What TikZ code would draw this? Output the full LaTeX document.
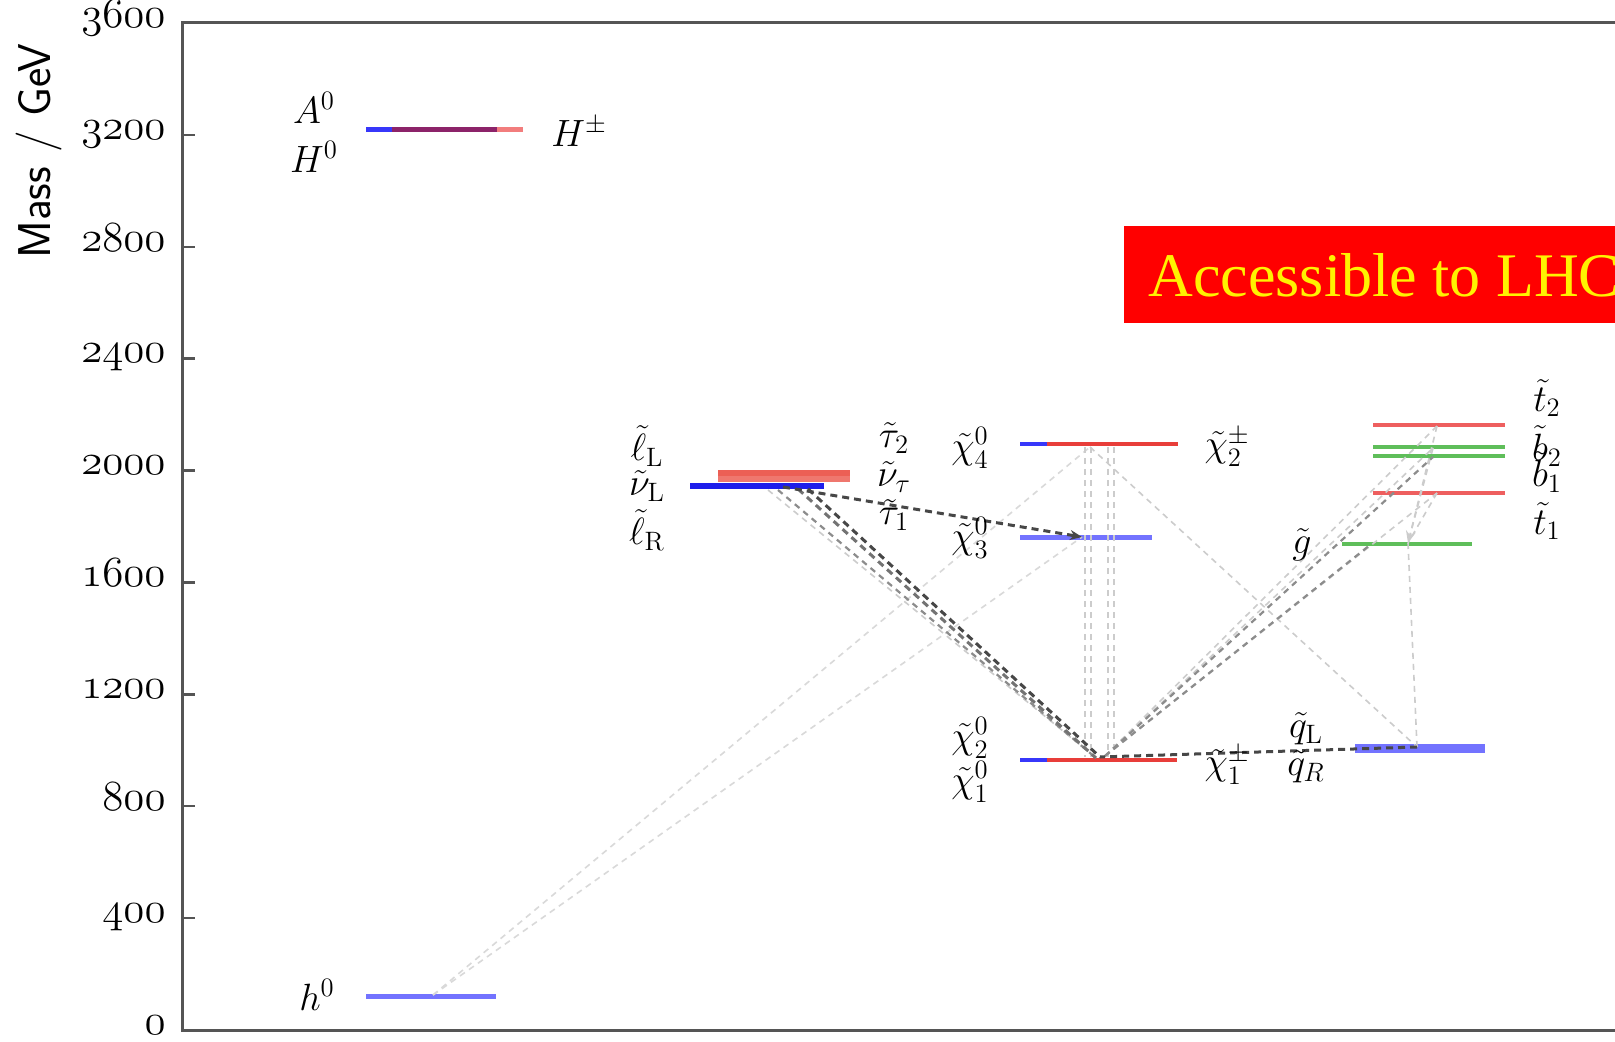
\RequirePackage{fix-cm}
\documentclass[tikz,border=0pt]{standalone}
\usepackage{fontspec}
\newfontfamily\timesfont{Liberation Serif}
\usetikzlibrary{arrows.meta}
\definecolor{cblue}{RGB}{55,55,250}
\definecolor{sblue}{RGB}{30,30,235}
\definecolor{lblue}{RGB}{115,115,255}
\definecolor{cred}{RGB}{232,62,58}
\definecolor{sred}{RGB}{236,95,85}
\definecolor{tred}{RGB}{238,95,95}
\definecolor{hpurple}{RGB}{140,35,105}
\definecolor{hpink}{RGB}{242,125,125}
\definecolor{cgreen}{RGB}{95,190,90}
\definecolor{axgray}{RGB}{85,85,85}
\tikzset{
  lbl/.style={font=\fontsize{19}{22}\selectfont, inner sep=0pt},
  ticklbl/.style={font=\fontsize{21.5}{24}\selectfont, inner sep=0pt, anchor=mid east},
  lvl/.style={line width=2.2pt},
  axisline/.style={draw=axgray, line width=1.5pt},
  dk/.style={draw=black!72, line width=1.5pt, dash pattern=on 3.5pt off 2.5pt},
  md/.style={draw=black!45, line width=1.1pt, dash pattern=on 3pt off 2.5pt},
  ft/.style={draw=black!20, line width=0.8pt, dash pattern=on 3pt off 2.5pt},
  ar/.style={-{Stealth[length=6pt,width=5pt]}}
}
\begin{document}
\begin{tikzpicture}[x=0.5pt,y=-0.5pt]
\useasboundingbox (0,0) rectangle (1615,1042);
\clip (0,0) rectangle (1615,1042);
\fill[white] (0,0) rectangle (1615,1042);

% axes
\coordinate (axTL) at (182,23);
\coordinate (axTR) at (1625,23);
\coordinate (axBL) at (182,1030);
\coordinate (axBR) at (1625,1030);
\draw[axisline] (axTR) -- (axTL) -- (axBL) -- (axBR);
\foreach \m in {0,400,...,3600}{
  \draw[axisline, line width=1.2pt] (182,{1030-0.27972*\m}) -- (195,{1030-0.27972*\m});
  \node[ticklbl] at (166,{1030-0.27972*\m}) {$\mathnormal{\m}$};
}
\node[rotate=90, font=\sffamily\fontsize{23}{26}\selectfont, inner sep=0pt] (ylab) at (39,151) {Mass / GeV};

% red banner
\fill[red] (1124,226) rectangle (1700,323);
\node[anchor=base west, text=yellow, font=\timesfont\fontsize{31}{36}\selectfont, inner sep=0pt] (lhc) at (1148,297) {Accessible to LHC};

% Higgs levels
\coordinate (Ha) at (366,130); \coordinate (Hb) at (392,130);
\coordinate (Hc) at (497,130); \coordinate (Hd) at (523,130);
\draw[lvl, line width=2.5pt, cblue] (Ha) -- (Hb);
\draw[lvl, line width=2.5pt, hpurple] (Hb) -- (Hc);
\draw[lvl, line width=2.5pt, hpink] (Hc) -- (Hd);
\coordinate (ha) at (366,996); \coordinate (hb) at (496,996);
\draw[lvl, line width=2.5pt, lblue] (ha) -- (hb);

% sleptons
\coordinate (sr1a) at (718,473); \coordinate (sr1b) at (850,473);
\coordinate (sr2a) at (718,479); \coordinate (sr2b) at (850,479);
\coordinate (sba) at (690,486); \coordinate (sbb) at (824,486);
\draw[lvl, line width=3.4pt, sred] (sr1a) -- (sr1b);
\draw[lvl, line width=3.4pt, sred!85!white] (sr2a) -- (sr2b);
\draw[lvl, line width=3pt, sblue] (sba) -- (sbb);

% neutralinos / charginos
\coordinate (c4a) at (1020,444); \coordinate (c4b) at (1047,444); \coordinate (c4c) at (1178,444);
\draw[lvl, cblue] (c4a) -- (c4b);
\draw[lvl, cred] (c4b) -- (c4c);
\coordinate (c3a) at (1020,537); \coordinate (c3b) at (1152,537);
\draw[lvl, line width=2.5pt, lblue] (c3a) -- (c3b);
\coordinate (c1a) at (1020,760); \coordinate (c1b) at (1047,760); \coordinate (c1c) at (1177,760);
\draw[lvl, cblue] (c1a) -- (c1b);
\draw[lvl, cred] (c1b) -- (c1c);

% squarks, gluino, stops, sbottoms
\coordinate (qa) at (1355,748); \coordinate (qb) at (1485,748);
\draw[lvl, line width=4.5pt, lblue] (qa) -- (qb);
\coordinate (ga) at (1342,544); \coordinate (gb) at (1472,544);
\draw[lvl, cgreen] (ga) -- (gb);
\coordinate (t2a) at (1373,425); \coordinate (t2b) at (1505,425);
\coordinate (b2a) at (1373,447); \coordinate (b2b) at (1505,447);
\coordinate (b1a) at (1373,456); \coordinate (b1b) at (1505,456);
\coordinate (t1a) at (1373,493); \coordinate (t1b) at (1505,493);
\draw[lvl, tred] (t2a) -- (t2b);
\draw[lvl, cgreen] (b2a) -- (b2b);
\draw[lvl, cgreen] (b1a) -- (b1b);
\draw[lvl, tred] (t1a) -- (t1b);

% decay points
\coordinate (sA) at (783,487);
\coordinate (sB) at (808,489);
\coordinate (sC) at (798,489);
\coordinate (sD) at (778,490);
\coordinate (sE) at (768,490);
\coordinate (c3p) at (1082,537);
\coordinate (c1p) at (1100,757);
\coordinate (c1q) at (1096,758);
\coordinate (c1r) at (1105,756);
\coordinate (c4p) at (1090,447);
\coordinate (hp) at (433,995);
\coordinate (gp) at (1408,543);
\coordinate (gq) at (1370,545);
\coordinate (qp) at (1417,747);
\coordinate (t2p) at (1437,426);
\coordinate (b2p) at (1433,448);
\coordinate (b1p) at (1433,457);
\coordinate (t1p) at (1437,493);
\coordinate (v1t) at (1085,447); \coordinate (v1b) at (1085,757);
\coordinate (v2t) at (1091,447); \coordinate (v2b) at (1091,757);
\coordinate (v3t) at (1108,447); \coordinate (v3b) at (1108,757);
\coordinate (v4t) at (1114,447); \coordinate (v4b) at (1114,757);

% faint decays
\draw[ft, draw=black!15] (hp) -- (c4p);
\draw[ft, draw=black!15] (hp) -- (c3p);
\draw[ft] (v1t) -- (v1b);
\draw[ft] (v2t) -- (v2b);
\draw[ft] (v3t) -- (v3b);
\draw[ft] (v4t) -- (v4b);
\draw[ft] (c4p) -- (qp);
\draw[ft] (gp) -- (qp);
\draw[ft, ar] (t2p) -- (gp);
\draw[ft] (b2p) -- (gp);
\draw[ft] (t1p) -- (gp);
\draw[ft] (c1r) -- (t2p);
\draw[ft] (c1r) -- (b2p);
\draw[ft] (c1r) -- (t1p);
\draw[md] (c1r) -- (b1p);
\draw[md] (c1r) -- (gq);
% slepton decays
\draw[ft] (sE) -- (c1q);
\draw[md] (sD) -- (c1q);
\draw[dk, draw=black!55] (sC) -- (c1q);
\draw[dk] (sB) -- (c1p);
\draw[dk, ar] (sA) -- (c3p);
\draw[dk] (qp) -- (c1p);

% labels
\node[lbl] (lA) at (314,108) {$A^0$};
\node[lbl] (lH) at (314,157) {$H^0$};
\node[lbl] (lHpm) at (579,132) {$H^\pm$};
\node[lbl] (lh) at (317,995) {$h^0$};
\node[lbl] (lL) at (647,446) {$\tilde{\ell}_{\mathrm{L}}$};
\node[lbl] (lnuL) at (647,486) {$\tilde{\nu}_{\mathrm{L}}$};
\node[lbl] (lR) at (647,530) {$\tilde{\ell}_{\mathrm{R}}$};
\node[lbl] (ltau2) at (894,438) {$\tilde{\tau}_2$};
\node[lbl] (lnutau) at (894,477) {$\tilde{\nu}_\tau$};
\node[lbl] (ltau1) at (894,515) {$\tilde{\tau}_1$};
\node[lbl] (lc4) at (970,448) {$\tilde{\chi}^0_4$};
\node[lbl] (lc3) at (970,538) {$\tilde{\chi}^0_3$};
\node[lbl] (lc2) at (970,738) {$\tilde{\chi}^0_2$};
\node[lbl] (lc1) at (970,782) {$\tilde{\chi}^0_1$};
\node[lbl] (lcp2) at (1227,447) {$\tilde{\chi}^\pm_2$};
\node[lbl] (lcp1) at (1227,765) {$\tilde{\chi}^\pm_1$};
\node[lbl] (lqL) at (1306,729) {$\tilde{q}_{\mathrm{L}}$};
\node[lbl] (lqR) at (1306,767) {$\tilde{q}_R$};
\node[lbl] (lg) at (1302,545) {$\tilde{g}$};
\node[lbl] (lt2) at (1547,398) {$\tilde{t}_2$};
\node[lbl] (lb2) at (1547,446) {$\tilde{b}_2$};
\node[lbl] (lb1) at (1547,472) {$\tilde{b}_1$};
\node[lbl] (lt1) at (1547,521) {$\tilde{t}_1$};
\end{tikzpicture}
\end{document}
